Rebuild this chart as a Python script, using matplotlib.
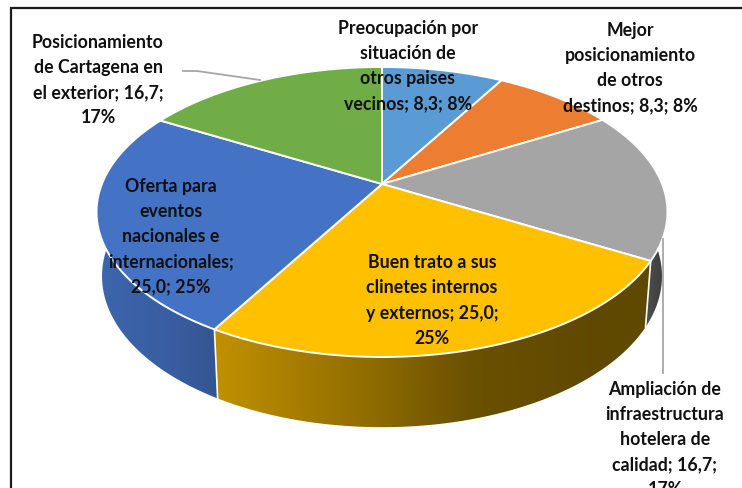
import numpy as np
import matplotlib
matplotlib.use("Agg")
import matplotlib.pyplot as plt
from matplotlib.patches import Polygon

values = [8.3, 8.3, 16.7, 25.0, 25.0, 16.7]
labels = [
    "Preocupación por\nsituación de\notros paises\nvecinos; 8,3; 8%",
    "Mejor\nposicionamiento\nde otros\ndestinos; 8,3; 8%",
    "Ampliación de\ninfraestructura\nhotelera de\ncalidad; 16,7;\n17%",
    "Buen trato a sus\nclinetes internos\ny externos; 25,0;\n25%",
    "Oferta para\neventos\nnacionales e\ninternacionales;\n25,0; 25%",
    "Posicionamiento\nde Cartagena en\nel exterior; 16,7;\n17%",
]
top_colors = ["#5B9BD5", "#ED7D31", "#A5A5A5", "#FFC000", "#4472C4", "#70AD47"]
side_stops = [
    ([640, 668], ["#555555", "#3a3a3a"]),
    ([640, 668], ["#555555", "#3a3a3a"]),
    ([640, 668], ["#555555", "#3a3a3a"]),
    ([218, 371, 471, 604, 650], ["#c09000", "#8f6c00", "#6a5000", "#5f4800", "#604900"]),
    ([96, 180, 218], ["#3d66ae", "#385c9e", "#345591"]),
    ([96, 180, 218], ["#3d66ae", "#385c9e", "#345591"]),
]
label_pos = [(408, 66), (630, 68), (665, 439.5), (432, 300.5), (171, 237), (98, 80)]

K = 0.193
TOP = dict(cx=382.0, cy=185.0, a=280.1, b=139.6)
BOT = dict(cx=382.0, cy=248.0, a=274.7, b=145.4)


def project(theta_deg, p):
    t = np.radians(theta_deg)
    x, y = np.sin(t), np.cos(t)
    w = 1 + K * y
    return p["cx"] + p["a"] * x / w, p["cy"] - p["b"] * y / w


fig = plt.figure(figsize=(7.42, 4.89), dpi=100, facecolor="white")
ax = fig.add_axes([0, 0, 1, 1])
ax.axis("off")

edges = np.concatenate([[0], np.cumsum(values)]) / np.sum(values) * 360
grid_x = np.arange(0, 743)

# side walls, a horizontal gradient clipped to each wall's outline
for i in range(len(values)):
    th = np.linspace(edges[i], edges[i + 1], 200)
    xt, yt = project(th, TOP)
    xb, yb = project(th, BOT)
    outline = np.column_stack([np.r_[xt, xb[::-1]], np.r_[yt, yb[::-1]]])
    stops, cols = side_stops[i]
    cols = np.array([matplotlib.colors.to_rgb(c) for c in cols])
    row = np.stack([np.interp(grid_x, stops, cols[:, k]) for k in range(3)], axis=-1)
    im = ax.imshow(row[np.newaxis, :, :], extent=(0, 742, 489, 0), aspect="auto",
                   interpolation="bilinear", zorder=1)
    clip = Polygon(outline, closed=True, transform=ax.transData)
    im.set_clip_path(clip)
    x0t, y0t = project(edges[i], TOP)
    x0b, y0b = project(edges[i], BOT)
    ax.plot([x0t, x0b], [y0t, y0b], color="white", lw=1.2, zorder=2)

# top face
for i in range(len(values)):
    th = np.linspace(edges[i], edges[i + 1], 120)
    xs, ys = project(th, TOP)
    verts = np.column_stack([np.r_[TOP["cx"], xs], np.r_[TOP["cy"], ys]])
    ax.add_patch(Polygon(verts, closed=True, facecolor=top_colors[i], edgecolor="white",
                         lw=1.4, joinstyle="round", zorder=3))

# leader lines
ax.plot([183, 197, 260], [72, 72, 81], color="#a6a6a6", lw=1.3, zorder=4)
ax.plot([663, 663], [240, 374], color="#a6a6a6", lw=1.3, zorder=4)

# frame
ax.plot([10.5, 10.5, 742], [489, 8.5, 8.5], color="#1c1c1c", lw=1.6, zorder=5,
        solid_joinstyle="miter", solid_capstyle="butt")

for text, (x, y) in zip(labels, label_pos):
    ax.text(x, y, text, ha="center", va="center", ma="center", fontsize=12.8,
            fontfamily="Lato", fontweight="bold", color="#101010",
            linespacing=1.58, zorder=6)

ax.set_xlim(0, 742)
ax.set_ylim(489, 0)
fig.savefig("out.png", dpi=100, facecolor="white")
